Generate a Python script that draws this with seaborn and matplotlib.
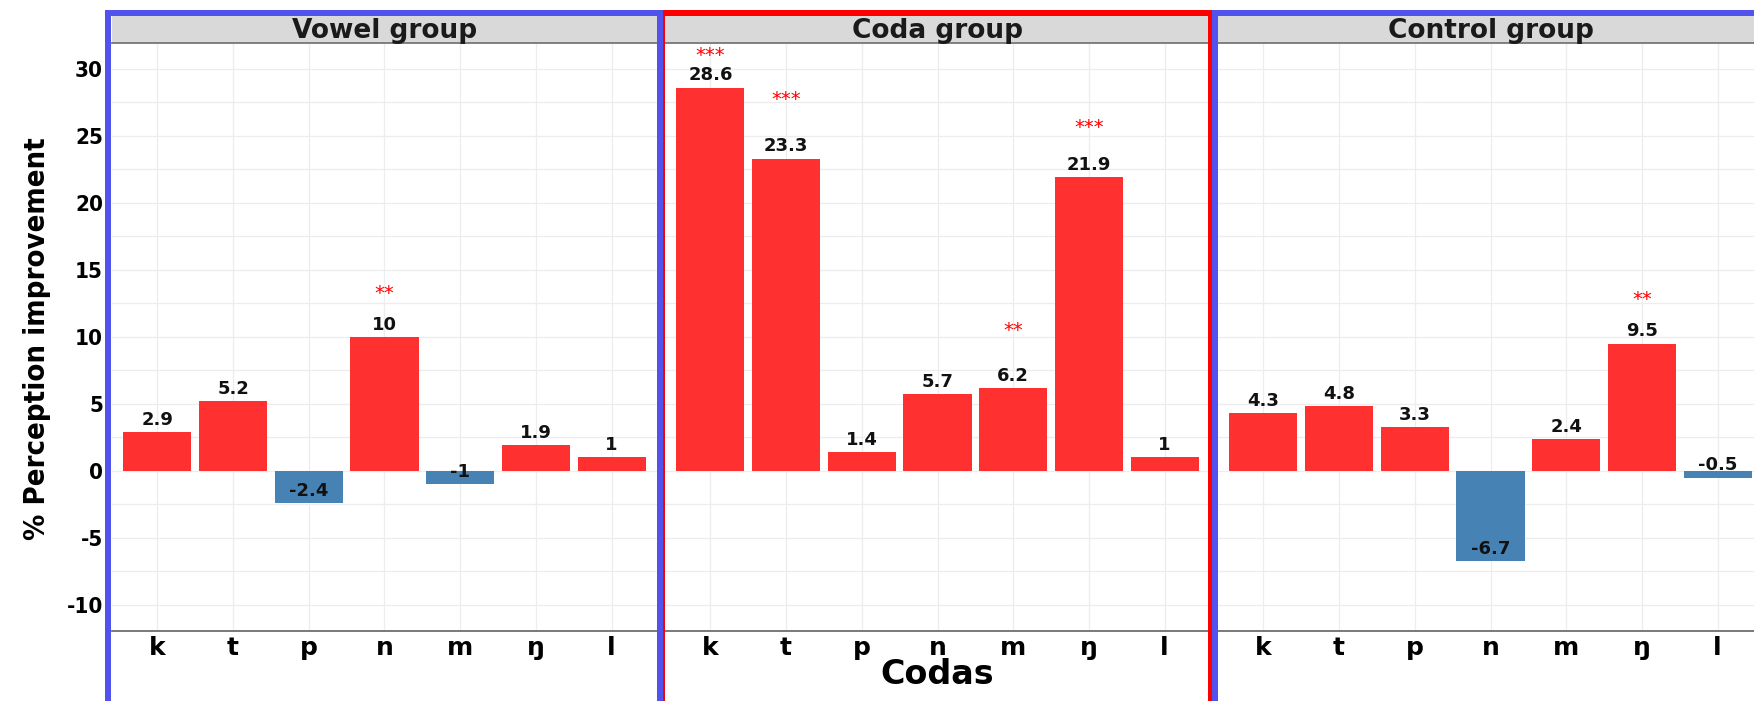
import numpy as np
import pandas as pd
import matplotlib
matplotlib.use("Agg")
import matplotlib.pyplot as plt
from matplotlib import font_manager
import seaborn as sns
from matplotlib.patches import Rectangle

# ---- data -------------------------------------------------------------
groups = ["Vowel group", "Coda group", "Control group"]
codas = ["k", "t", "p", "n", "m", "ŋ", "l"]
vowel_vals = [2.9, 5.2, -2.4, 10, -1, 1.9, 1]
coda_vals = [28.6, 23.3, 1.4, 5.7, 6.2, 21.9, 1]
control_vals = [4.3, 4.8, 3.3, -6.7, 2.4, 9.5, -0.5]

# significance marks
sig_group = ["Vowel group", "Coda group", "Coda group", "Coda group",
             "Coda group", "Control group"]
sig_coda = ["n", "k", "t", "m", "ŋ", "ŋ"]
sig_stars = ["**", "***", "***", "**", "***", "**"]
sig_lift = [3.2, 2.4, 4.4, 4.3, 3.7, 3.3]

df = pd.DataFrame({
    "group": np.repeat(groups, len(codas)),
    "coda": codas * len(groups),
    "value": vowel_vals + coda_vals + control_vals,
})
df["sign"] = np.where(df["value"] >= 0, "gain", "loss")
sig = pd.DataFrame({"group": sig_group, "coda": sig_coda,
                    "stars": sig_stars, "lift": sig_lift})

# ---- style ------------------------------------------------------------
sns.set_style("white")
plt.rcParams["font.family"] = ["DejaVu Sans"]
plt.rcParams["axes.unicode_minus"] = False
plt.rcParams["text.color"] = "black"

# pick a narrow bold face for the y axis text if one is installed
narrow_file = None
for f in font_manager.fontManager.ttflist:
    nm = f.name.lower()
    fn = f.fname.lower()
    is_narrow = (f.stretch in ("condensed", "semi-condensed",
                               "extra-condensed")
                 or "narrow" in nm or "condensed" in nm
                 or "narrow" in fn or "condensed" in fn)
    heavy = (f.weight in ("bold", 700, "heavy", 800, "black", 900)
             or "bold" in fn)
    if is_narrow and heavy and f.style != "italic" \
            and "oblique" not in fn and "italic" not in fn:
        narrow_file = f.fname
        break

if narrow_file:
    ylab_font = font_manager.FontProperties(fname=narrow_file, size=21)
    ytick_font = font_manager.FontProperties(fname=narrow_file, size=16)
else:
    ylab_font = font_manager.FontProperties(family="DejaVu Sans",
                                            weight="bold", size=19)
    ytick_font = font_manager.FontProperties(family="DejaVu Sans",
                                             weight="bold", size=14)

W, H = 1754, 701
fig = plt.figure(figsize=(W / 100, H / 100), dpi=100)

palette = {"gain": "#FF3030", "loss": "#4682B4"}
panel_left = [112, 665, 1218]
panel_w = 545
top_px, bot_px, strip_top = 42.5, 630.7, 16
ymin, ymax = -11.93, 31.96

for k, (grp, left) in enumerate(zip(groups, panel_left)):
    ax = fig.add_axes([left / W, (H - bot_px) / H, panel_w / W,
                       (bot_px - top_px) / H])
    sub = df[df["group"] == grp]
    sns.barplot(data=sub, x="coda", y="value", hue="sign", order=codas,
                hue_order=["gain", "loss"], palette=palette, dodge=False,
                width=0.9, saturation=1, linewidth=0, legend=False, ax=ax)
    ax.set_xlim(-0.6, 6.6)
    ax.set_ylim(ymin, ymax)
    ax.set_yticks(np.arange(-10, 31, 5))
    ax.set_yticks(np.arange(-7.5, 30, 5), minor=True)
    ax.grid(True, which="both", axis="y", color="#EDEDED", lw=0.9)
    ax.grid(True, which="major", axis="x", color="#EDEDED", lw=0.9)
    ax.set_axisbelow(True)
    for s in ["top", "right", "left"]:
        ax.spines[s].set_visible(False)
    ax.spines["bottom"].set_color("#6E6E6E")
    ax.spines["bottom"].set_linewidth(1.3)
    ax.tick_params(axis="x", length=3, width=1, color="#6E6E6E", pad=1,
                   labelsize=18, labelcolor="black")
    for t in ax.get_xticklabels():
        t.set_fontweight("bold")
    ax.tick_params(axis="y", which="both", length=0)
    if k == 0:
        ax.tick_params(axis="y", pad=6.5, labelcolor="black")
        for t in ax.get_yticklabels():
            t.set_fontproperties(ytick_font)
    else:
        ax.set_yticklabels([])
    ax.set_xlabel("")
    ax.set_ylabel("")

    # value labels
    for i, c in enumerate(codas):
        v = sub.loc[sub["coda"] == c, "value"].iloc[0]
        ax.text(i, v + 0.9, f"{v:g}", ha="center", va="center",
                fontsize=13, fontweight="bold", color="#111111")
    # significance stars
    for _, r in sig[sig["group"] == grp].iterrows():
        i = codas.index(r["coda"])
        v = sub.loc[sub["coda"] == r["coda"], "value"].iloc[0]
        ax.text(i, v + r["lift"], r["stars"], ha="center", va="center",
                fontsize=14, color="red")

    # facet strip
    sax = fig.add_axes([left / W, (H - top_px) / H, panel_w / W,
                        (top_px - strip_top) / H])
    sax.set_facecolor("#D9D9D9")
    sax.set_xticks([])
    sax.set_yticks([])
    for s in ["top", "right", "left"]:
        sax.spines[s].set_visible(False)
    sax.spines["bottom"].set_color("#777777")
    sax.spines["bottom"].set_linewidth(1.3)
    sax.text(0.5, 0.45, grp, ha="center", va="center", fontsize=19,
             fontweight="bold", color="#1A1A1A", transform=sax.transAxes)

# axis titles
fig.text(37 / W, 1 - 339 / H, "% Perception improvement", rotation=90,
         ha="center", va="center", fontproperties=ylab_font)
fig.text(937 / W, 1 - 675 / H, "Codas", ha="center", va="center",
         fontsize=24, fontweight="bold")

# group frames
def frame(x0, x1, color, z):
    y0, y1 = 13, 708
    fig.patches.append(Rectangle((x0 / W, (H - y1) / H), (x1 - x0) / W,
                                 (y1 - y0) / H, transform=fig.transFigure,
                                 fill=False, ec=color, lw=6 * 0.72,
                                 zorder=z))

frame(662, 1211, "#FF0000", 10)
frame(108, 660, "#5252EC", 11)
frame(1215, 1768, "#5252EC", 11)

fig.savefig("out.png", dpi=100)
